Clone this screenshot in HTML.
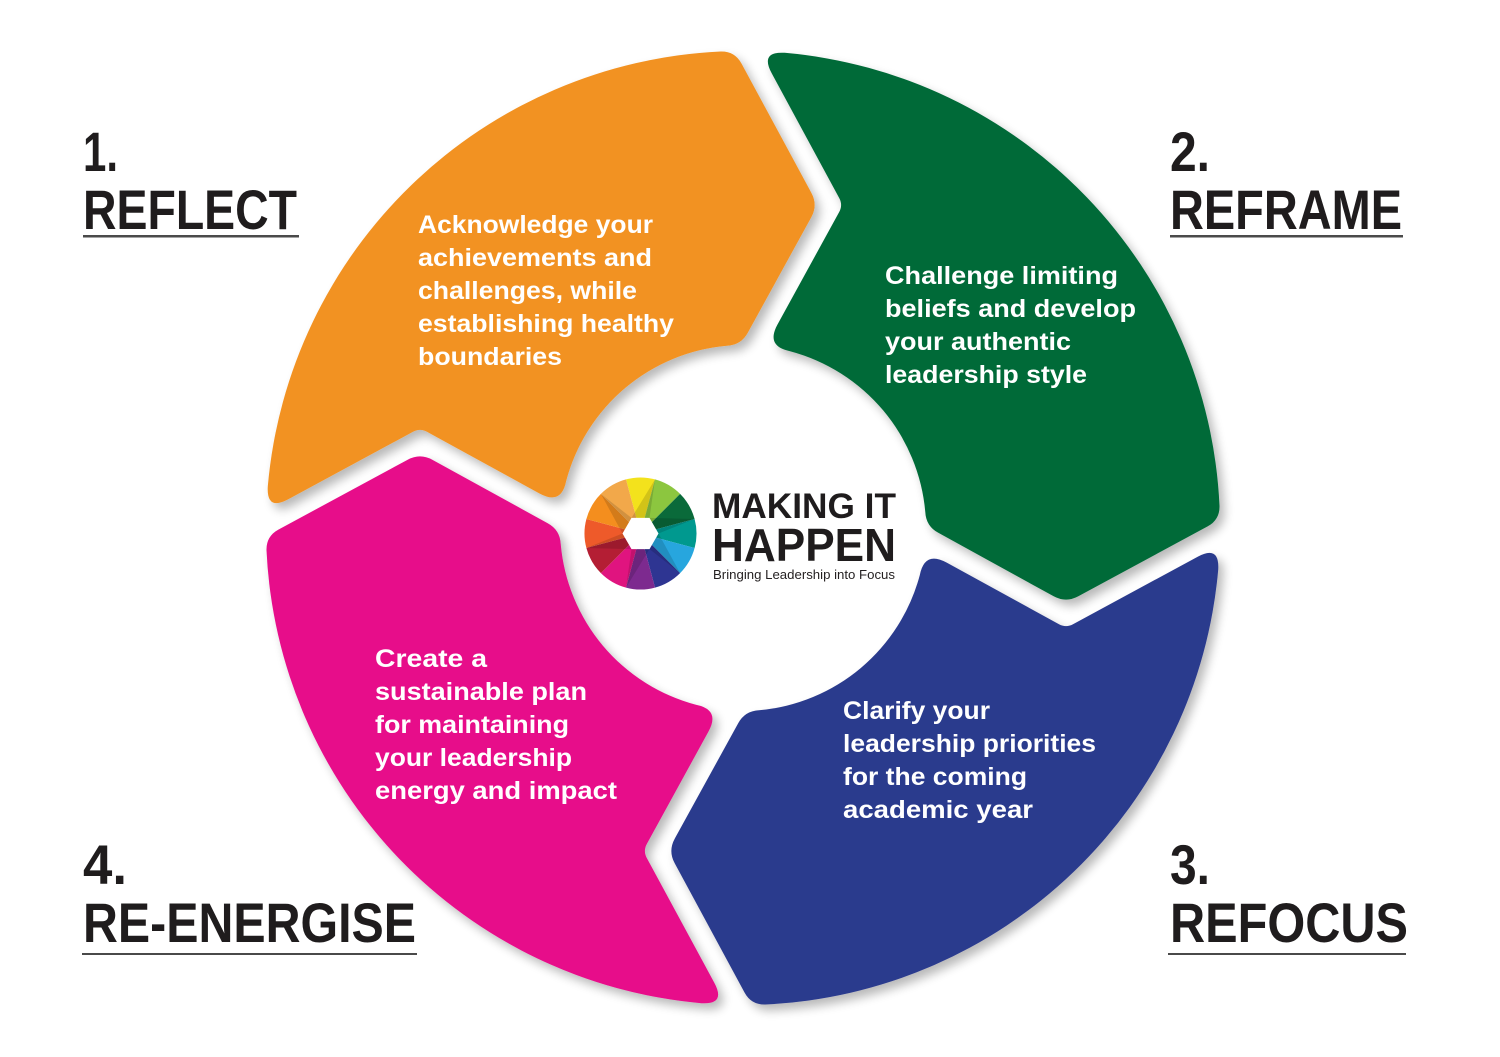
<!DOCTYPE html>
<html>
<head>
<meta charset="utf-8">
<style>
  html,body{margin:0;padding:0;background:#ffffff;}
  svg{display:block;}
  .h{font-family:"Liberation Sans",Arial,sans-serif;font-weight:700;fill:#1f1c1d;}
  .b{font-family:"Liberation Sans",Arial,sans-serif;font-weight:700;fill:#ffffff;font-size:25px;}
</style>
</head>
<body>
<svg width="1500" height="1057" viewBox="0 0 1500 1057" xmlns="http://www.w3.org/2000/svg">
  <defs>
    <filter id="sh" x="-10%" y="-10%" width="120%" height="120%">
      <feGaussianBlur in="SourceAlpha" stdDeviation="5"/>
      <feOffset dx="5" dy="6"/>
      <feComponentTransfer result="s"><feFuncA type="linear" slope="0.28"/></feComponentTransfer>
      <feMerge><feMergeNode in="s"/><feMergeNode in="SourceGraphic"/></feMerge>
    </filter>
  </defs>
  <rect x="0" y="0" width="1500" height="1057" fill="#ffffff"/>

  <g filter="url(#sh)">
    <path fill="#F29222" d="M 267.8 486.3 A 477 477 0 0 1 720.7 51.5 Q 734.7 51.1 741.4 63.4 L 811.3 192.7 Q 818 205 811.3 217.3 L 747.8 332.7 Q 741.1 345 727.1 345.7 A 183 183 0 0 0 566.2 480.9 Q 561.4 505.5 539.5 493.5 L 427.0 431.8 Q 420 428 413.0 431.8 L 288.3 499.3 Q 266.3 511.2 267.8 486.3 Z"/>
    <path fill="#046A39" transform="rotate(90 743 528)" d="M 267.8 486.3 A 477 477 0 0 1 720.7 51.5 Q 734.7 51.1 741.4 63.4 L 811.3 192.7 Q 818 205 811.3 217.3 L 747.8 332.7 Q 741.1 345 727.1 345.7 A 183 183 0 0 0 566.2 480.9 Q 561.4 505.5 539.5 493.5 L 427.0 431.8 Q 420 428 413.0 431.8 L 288.3 499.3 Q 266.3 511.2 267.8 486.3 Z"/>
    <path fill="#2C3A8D" transform="rotate(180 743 528)" d="M 267.8 486.3 A 477 477 0 0 1 720.7 51.5 Q 734.7 51.1 741.4 63.4 L 811.3 192.7 Q 818 205 811.3 217.3 L 747.8 332.7 Q 741.1 345 727.1 345.7 A 183 183 0 0 0 566.2 480.9 Q 561.4 505.5 539.5 493.5 L 427.0 431.8 Q 420 428 413.0 431.8 L 288.3 499.3 Q 266.3 511.2 267.8 486.3 Z"/>
    <path fill="#E70B8A" transform="rotate(270 743 528)" d="M 267.8 486.3 A 477 477 0 0 1 720.7 51.5 Q 734.7 51.1 741.4 63.4 L 811.3 192.7 Q 818 205 811.3 217.3 L 747.8 332.7 Q 741.1 345 727.1 345.7 A 183 183 0 0 0 566.2 480.9 Q 561.4 505.5 539.5 493.5 L 427.0 431.8 Q 420 428 413.0 431.8 L 288.3 499.3 Q 266.3 511.2 267.8 486.3 Z"/>
  </g>

  <!-- Segment texts -->
  <text class="b" x="418" y="233" textLength="235" lengthAdjust="spacingAndGlyphs">Acknowledge your</text>
  <text class="b" x="418" y="266" textLength="234" lengthAdjust="spacingAndGlyphs">achievements and</text>
  <text class="b" x="418" y="299" textLength="219" lengthAdjust="spacingAndGlyphs">challenges, while</text>
  <text class="b" x="418" y="332" textLength="256" lengthAdjust="spacingAndGlyphs">establishing healthy</text>
  <text class="b" x="418" y="365" textLength="144" lengthAdjust="spacingAndGlyphs">boundaries</text>

  <text class="b" x="885" y="284" textLength="233" lengthAdjust="spacingAndGlyphs">Challenge limiting</text>
  <text class="b" x="885" y="317" textLength="251" lengthAdjust="spacingAndGlyphs">beliefs and develop</text>
  <text class="b" x="885" y="350" textLength="186" lengthAdjust="spacingAndGlyphs">your authentic</text>
  <text class="b" x="885" y="383" textLength="202" lengthAdjust="spacingAndGlyphs">leadership style</text>

  <text class="b" x="843" y="719" textLength="147" lengthAdjust="spacingAndGlyphs">Clarify your</text>
  <text class="b" x="843" y="752" textLength="253" lengthAdjust="spacingAndGlyphs">leadership priorities</text>
  <text class="b" x="843" y="785" textLength="184" lengthAdjust="spacingAndGlyphs">for the coming</text>
  <text class="b" x="843" y="818" textLength="190" lengthAdjust="spacingAndGlyphs">academic year</text>

  <text class="b" x="375" y="667" textLength="112" lengthAdjust="spacingAndGlyphs">Create a</text>
  <text class="b" x="375" y="700" textLength="212" lengthAdjust="spacingAndGlyphs">sustainable plan</text>
  <text class="b" x="375" y="733" textLength="194" lengthAdjust="spacingAndGlyphs">for maintaining</text>
  <text class="b" x="375" y="766" textLength="197" lengthAdjust="spacingAndGlyphs">your leadership</text>
  <text class="b" x="375" y="799" textLength="242" lengthAdjust="spacingAndGlyphs">energy and impact</text>

  <!-- Headings -->
  <text class="h" x="83" y="171" font-size="56" textLength="35" lengthAdjust="spacingAndGlyphs">1.</text>
  <text class="h" x="83" y="229" font-size="56" textLength="214" lengthAdjust="spacingAndGlyphs">REFLECT</text>
  <rect x="83" y="235" width="216" height="2.5" fill="#4a4a4a"/>

  <text class="h" x="1170" y="171" font-size="56" textLength="40" lengthAdjust="spacingAndGlyphs">2.</text>
  <text class="h" x="1170" y="229" font-size="56" textLength="232" lengthAdjust="spacingAndGlyphs">REFRAME</text>
  <rect x="1170" y="235" width="233" height="2.5" fill="#4a4a4a"/>

  <text class="h" x="1170" y="884" font-size="56" textLength="40" lengthAdjust="spacingAndGlyphs">3.</text>
  <text class="h" x="1170" y="942" font-size="56" textLength="238" lengthAdjust="spacingAndGlyphs">REFOCUS</text>
  <rect x="1168" y="953" width="238" height="2" fill="#4a4a4a"/>

  <text class="h" x="83" y="884" font-size="56" textLength="44" lengthAdjust="spacingAndGlyphs">4.</text>
  <text class="h" x="83" y="942" font-size="56" textLength="333" lengthAdjust="spacingAndGlyphs">RE-ENERGISE</text>
  <rect x="82" y="953" width="335" height="2" fill="#4a4a4a"/>

  <!-- Logo wheel -->
  <g>
    <path fill="#F3E21C" d="M640.5 533.5 L626.0 479.4 A56 56 0 0 1 655.0 479.4 Z"/>
    <path fill="#8CC63F" d="M640.5 533.5 L655.0 479.4 A56 56 0 0 1 680.1 493.9 Z"/>
    <path fill="#0A6A3A" d="M640.5 533.5 L680.1 493.9 A56 56 0 0 1 694.6 519.0 Z"/>
    <path fill="#00998F" d="M640.5 533.5 L694.6 519.0 A56 56 0 0 1 694.6 548.0 Z"/>
    <path fill="#27A6DE" d="M640.5 533.5 L694.6 548.0 A56 56 0 0 1 680.1 573.1 Z"/>
    <path fill="#2E3592" d="M640.5 533.5 L680.1 573.1 A56 56 0 0 1 655.0 587.6 Z"/>
    <path fill="#7D2A8F" d="M640.5 533.5 L655.0 587.6 A56 56 0 0 1 626.0 587.6 Z"/>
    <path fill="#E0147F" d="M640.5 533.5 L626.0 587.6 A56 56 0 0 1 600.9 573.1 Z"/>
    <path fill="#B41E34" d="M640.5 533.5 L600.9 573.1 A56 56 0 0 1 586.4 548.0 Z"/>
    <path fill="#EE5A2A" d="M640.5 533.5 L586.4 548.0 A56 56 0 0 1 586.4 519.0 Z"/>
    <path fill="#F48E1E" d="M640.5 533.5 L586.4 519.0 A56 56 0 0 1 600.9 493.9 Z"/>
    <path fill="#F2A84A" d="M640.5 533.5 L600.9 493.9 A56 56 0 0 1 626.0 479.4 Z"/>
    <!-- blade shading -->
    <g fill="#000" opacity="0.13">
      <polygon points="649.5,517.9 631.5,517.9 655.0,479.4"/>
      <polygon points="658.5,533.5 649.5,517.9 694.6,519.0"/>
      <polygon points="649.5,549.1 658.5,533.5 680.1,573.1"/>
      <polygon points="631.5,549.1 649.5,549.1 626.0,587.6"/>
      <polygon points="622.5,533.5 631.5,549.1 586.4,548.0"/>
      <polygon points="631.5,517.9 622.5,533.5 600.9,493.9"/>
    </g>
    <polygon fill="#ffffff" points="658.5,533.5 649.5,549.1 631.5,549.1 622.5,533.5 631.5,517.9 649.5,517.9"/>
  </g>

  <!-- Logo text -->
  <text class="h" x="712" y="518" font-size="35" textLength="184" lengthAdjust="spacingAndGlyphs">MAKING IT</text>
  <text class="h" x="712" y="561" font-size="46" textLength="184" lengthAdjust="spacingAndGlyphs">HAPPEN</text>
  <text x="713" y="579" font-family="Liberation Sans, Arial, sans-serif" font-size="12.5" fill="#231f20" textLength="182" lengthAdjust="spacingAndGlyphs">Bringing Leadership into Focus</text>
</svg>
</body>
</html>
